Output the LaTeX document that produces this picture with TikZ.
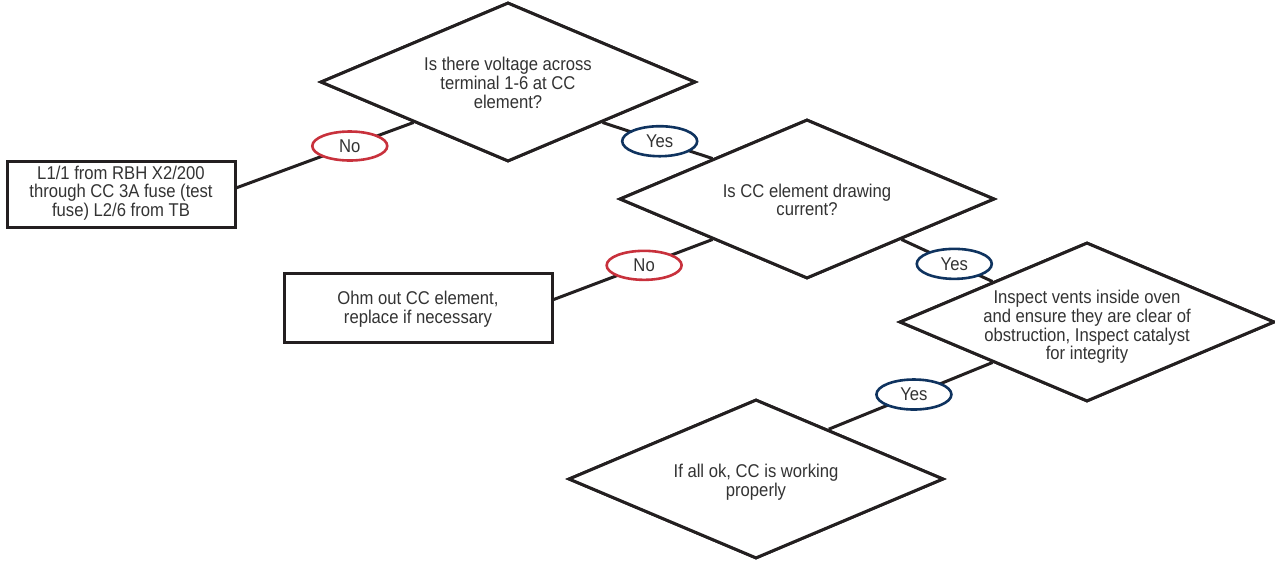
\documentclass[tikz,border=0pt]{standalone}
\usepackage{fontspec}
\setmainfont{Liberation Sans}[FakeStretch=0.9]
\usetikzlibrary{shapes.geometric,calc}
\definecolor{lineC}{HTML}{231F20}
\definecolor{textC}{HTML}{333333}
\definecolor{noC}{HTML}{C8313C}
\definecolor{yesC}{HTML}{0F335F}
\tikzset{
  tfont/.style={font=\fontsize{18.5}{18.7}\selectfont},
  dia/.style={diamond, draw=lineC, line width=3pt, fill=white, minimum width=375pt, minimum height=159pt, inner sep=0pt},
  qtext/.style={text=textC, align=center, tfont, inner sep=0pt},
  boxn/.style={rectangle, draw=lineC, line width=3pt, fill=white, inner sep=0pt},
  conn/.style={draw=lineC, line width=3pt},
  noel/.style={ellipse, draw=noC, line width=2.6pt, fill=white, minimum width=75pt, minimum height=29pt, inner sep=0pt, text=textC, tfont},
  yesel/.style={ellipse, draw=yesC, line width=2.6pt, fill=white, minimum width=75pt, minimum height=30pt, inner sep=0pt, text=textC, tfont}
}
\begin{document}
\begin{tikzpicture}[x=1pt,y=-1pt]
\useasboundingbox (0,0) rectangle (1275,560);
% diamonds
\node[dia] (d1) at (508,82) {};
\node[dia] (d2) at (807,199) {};
\node[dia] (d3) at (1087,322) {};
\node[dia] (d4) at (756,479) {};
% boxes
\node[boxn, minimum width=228pt, minimum height=66pt] (b1) at (121,194) {};
\node[boxn, minimum width=268pt, minimum height=69pt] (b2) at (418,307.5) {};
% connectors with labels
\draw[conn] ($(d1.west)!0.5!(d1.south)$) -- node[noel, pos=0.36] (l1) {No} ($(b1.north east)!0.41!(b1.south east)$);
\draw[conn] ($(d1.east)!0.5!(d1.south)$) -- node[yesel, pos=0.52] (l2) {Yes} ($(d2.west)!0.5!(d2.north)$);
\draw[conn] ($(d2.west)!0.5!(d2.south)$) -- node[noel, pos=0.43] (l3) {No} ($(b2.north east)!0.39!(b2.south east)$);
\draw[conn] ($(d2.east)!0.5!(d2.south)$) -- node[yesel, pos=0.58] (l4) {Yes} ($(d3.west)!0.5!(d3.north)$);
\draw[conn] ($(d3.west)!0.5!(d3.south)$) -- node[yesel, pos=0.48] (l5) {Yes} ($(d4.north)!0.385!(d4.east)$);
% redraw shapes on top of line ends
\node[dia] at (d1) {};
\node[dia] at (d2) {};
\node[dia] at (d3) {};
\node[dia] at (d4) {};
% texts
\node[qtext] (t1) at (508,83) {Is there voltage across\\terminal 1-6 at CC\\element?};
\node[qtext] (t2) at (807,200) {Is CC element drawing\\current?};
\node[qtext] (t3) at (1087,327) {Inspect vents inside oven\\and ensure they are clear of\\obstruction, Inspect catalyst\\for integrity};
\node[qtext] (t4) at (756,482.5) {If all ok, CC is working\\properly};
\node[qtext] (t5) at (121,193) {L1/1 from RBH X2/200\\through CC 3A fuse (test\\fuse) L2/6 from TB};
\node[qtext] (t6) at (418,309) {Ohm out CC element,\\replace if necessary};
\end{tikzpicture}
\end{document}
